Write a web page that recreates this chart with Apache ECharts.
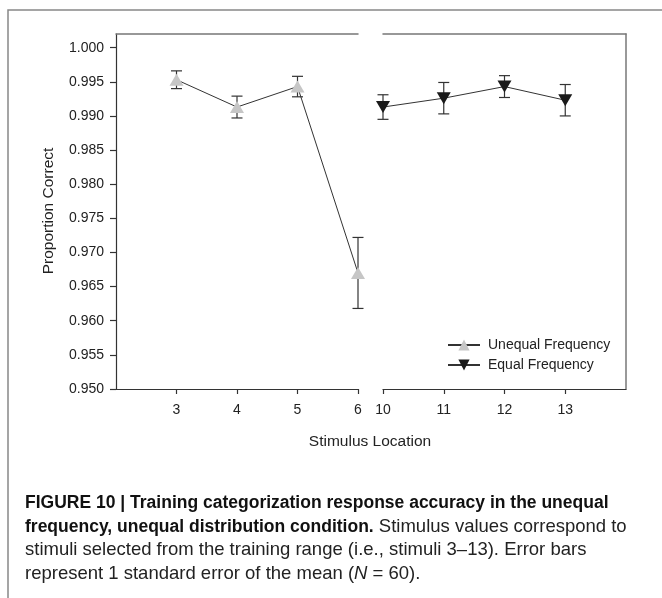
<!DOCTYPE html>
<html><head><meta charset="utf-8">
<script src="https://cdn.jsdelivr.net/npm/echarts@6/dist/echarts.min.js"></script>
<style>html,body{margin:0;padding:0;background:#fff}#c{width:662px;height:598px}</style>
</head><body><div id="c"></div>
<script>
// ---- data ----
const unequalX = [3, 4, 5, 6];
const unequalMean = [0.9953, 0.9913, 0.9943, 0.9670];
const unequalSE = [0.0013, 0.0016, 0.0015, 0.0052];
const equalX = [10, 11, 12, 13];
const equalMean = [0.9913, 0.9926, 0.9943, 0.9923];
const equalSE = [0.0018, 0.0023, 0.0016, 0.0023];
const yTicks = [0.950, 0.955, 0.960, 0.965, 0.970, 0.975, 0.980, 0.985, 0.990, 0.995, 1.000];
const leftXTicks = [3, 4, 5, 6];
const rightXTicks = [10, 11, 12, 13];
const seriesNames = ['Unequal Frequency', 'Equal Frequency'];
const xTitle = 'Stimulus Location';
const yTitle = 'Proportion Correct';

const FONT = 'Liberation Sans, Arial, Helvetica, sans-serif';
const CAP = '"Liberation Sans", Arial, sans-serif';
const AX = '#333';
const BORDER = '#777';
const YMIN = 0.95, YMAX = 1.002;
const CAP_B = 17.5, CAP_R = 18.5;

const chart = echarts.init(document.getElementById('c'), null, {renderer: 'canvas'});

function errData(xs, m, se) { return xs.map((x, i) => [x, m[i] - se[i], m[i] + se[i]]); }
function errRender(params, api) {
  const x = api.value(0);
  const lo = api.coord([x, api.value(1)]);
  const hi = api.coord([x, api.value(2)]);
  const hw = 5.5;
  const st = {stroke: '#333', lineWidth: 1.2};
  return {type: 'group', children: [
    {type: 'line', shape: {x1: lo[0], y1: lo[1], x2: hi[0], y2: hi[1]}, style: st},
    {type: 'line', shape: {x1: lo[0] - hw, y1: lo[1], x2: lo[0] + hw, y2: lo[1]}, style: st},
    {type: 'line', shape: {x1: hi[0] - hw, y1: hi[1], x2: hi[0] + hw, y2: hi[1]}, style: st}
  ]};
}

const bottomAxis = (gi, min, max, ticks) => ({
  gridIndex: gi, type: 'value', min, max, position: 'bottom',
  axisLine: {show: true, onZero: false, lineStyle: {color: AX, width: 1.2}},
  axisTick: {show: true, length: 5, customValues: ticks, lineStyle: {color: AX, width: 1.2}},
  axisLabel: {customValues: ticks, margin: 14, fontSize: 14, color: '#222', fontFamily: FONT},
  splitLine: {show: false}
});
const topAxis = (gi, min, max) => ({
  gridIndex: gi, type: 'value', min, max, position: 'top',
  axisLine: {show: true, onZero: false, lineStyle: {color: BORDER, width: 1.5}},
  axisTick: {show: false}, axisLabel: {show: false}, splitLine: {show: false}
});

const option = {
  animation: false,
  backgroundColor: '#fff',
  grid: [
    {left: 116, top: 34, width: 242, height: 355},
    {left: 383, top: 34, width: 243, height: 355}
  ],
  xAxis: [
    bottomAxis(0, 2, 6, leftXTicks),
    bottomAxis(1, 10, 14, rightXTicks),
    topAxis(0, 2, 6),
    topAxis(1, 10, 14)
  ],
  yAxis: [
    {gridIndex: 0, type: 'value', min: YMIN, max: YMAX,
     axisLine: {show: true, onZero: false, lineStyle: {color: AX, width: 1.2}},
     axisTick: {show: true, length: 6, customValues: yTicks, lineStyle: {color: AX, width: 1.2}},
     axisLabel: {customValues: yTicks, formatter: v => Number(v).toFixed(3), margin: 12, fontSize: 14, color: '#222', fontFamily: FONT},
     splitLine: {show: false}},
    {gridIndex: 1, type: 'value', min: YMIN, max: YMAX, position: 'right',
     axisLine: {show: true, onZero: false, lineStyle: {color: BORDER, width: 1.5}},
     axisTick: {show: false}, axisLabel: {show: false}, splitLine: {show: false}}
  ],
  legend: {
    orient: 'vertical', left: 442, top: 333, itemWidth: 32, itemHeight: 14, itemGap: 6,
    data: seriesNames,
    textStyle: {fontSize: 14, color: '#222', fontFamily: FONT, padding: [0, 0, 0, 3]}
  },
  series: [
    {type: 'custom', xAxisIndex: 0, yAxisIndex: 0, z: 2, renderItem: errRender,
     data: errData(unequalX, unequalMean, unequalSE), silent: true},
    {type: 'custom', xAxisIndex: 1, yAxisIndex: 1, z: 2, renderItem: errRender,
     data: errData(equalX, equalMean, equalSE), silent: true},
    {name: seriesNames[0], type: 'line', xAxisIndex: 0, yAxisIndex: 0, z: 3,
     data: unequalX.map((x, i) => [x, unequalMean[i]]),
     symbol: 'triangle', symbolSize: [14, 12], showAllSymbol: true,
     itemStyle: {color: '#c6c6c6'}, lineStyle: {color: '#333', width: 1}},
    {name: seriesNames[1], type: 'line', xAxisIndex: 1, yAxisIndex: 1, z: 3,
     data: equalX.map((x, i) => [x, equalMean[i]]),
     symbol: 'triangle', symbolRotate: 180, symbolSize: [14, 12], showAllSymbol: true,
     itemStyle: {color: '#1a1a1a'}, lineStyle: {color: '#333', width: 1}}
  ],
  graphic: [
    {type: 'rect', silent: true, shape: {x: 8, y: 10, width: 720, height: 720},
     style: {fill: 'none', stroke: '#888', lineWidth: 1.5}},
    {type: 'text', silent: true, x: 49, y: 211, rotation: Math.PI / 2,
     style: {text: yTitle, align: 'center', verticalAlign: 'middle', fontSize: 15.5, fontFamily: FONT, fill: '#222'}},
    {type: 'text', silent: true, x: 370, y: 442,
     style: {text: xTitle, align: 'center', verticalAlign: 'middle', fontSize: 15.5, fontFamily: FONT, fill: '#222'}},
    {type: 'text', silent: true, x: 25, y: 503,
     style: {text: 'FIGURE 10 | Training categorization response accuracy in the unequal', align: 'left', verticalAlign: 'middle',
       fontSize: CAP_B, fontWeight: 'bold', fontFamily: CAP, fill: '#111'}},
    {type: 'text', silent: true, x: 25, y: 527,
     style: {text: '{b|frequency, unequal distribution condition.} Stimulus values correspond to', align: 'left', verticalAlign: 'middle',
       fontSize: CAP_R, fontFamily: CAP, fill: '#222', rich: {b: {fontWeight: 'bold', fontSize: CAP_B, fontFamily: CAP, fill: '#111'}}}},
    {type: 'text', silent: true, x: 25, y: 550,
     style: {text: 'stimuli selected from the training range (i.e., stimuli 3\u201313). Error bars', align: 'left', verticalAlign: 'middle',
       fontSize: CAP_R, fontFamily: CAP, fill: '#222'}},
    {type: 'text', silent: true, x: 25, y: 574,
     style: {text: 'represent 1 standard error of the mean ({i|N} = 60).', align: 'left', verticalAlign: 'middle',
       fontSize: CAP_R, fontFamily: CAP, fill: '#222', rich: {i: {fontStyle: 'italic', fontSize: CAP_R, fontFamily: CAP, fill: '#222'}}}}
  ]
};
chart.setOption(option);
</script></body></html>
